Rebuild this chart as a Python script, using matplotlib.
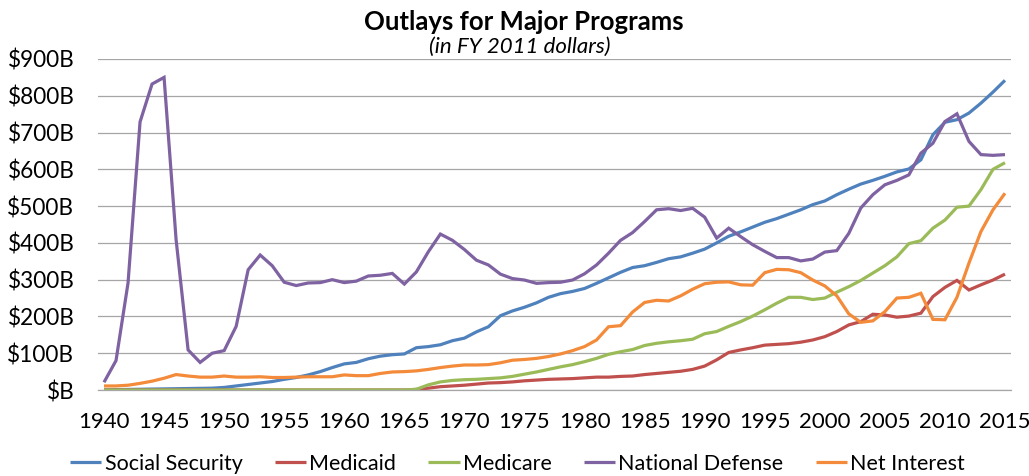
import matplotlib
matplotlib.use("Agg")
import matplotlib.pyplot as plt
from matplotlib.ticker import FixedLocator, FuncFormatter

years = list(range(1940, 2016))

social_security = [0.5, 1, 1.5, 2, 2.5, 3, 3.5, 4, 4.5, 5,
                   7, 11, 15, 19, 23, 29, 34, 41, 50, 61,
                   71, 75, 85, 92, 96, 98, 115, 118, 123, 134,
                   141, 158, 172, 202, 215, 225, 237, 252, 262, 268,
                   276, 290, 305, 320, 333, 338, 347, 357, 362, 372,
                   383, 400, 418, 430, 443, 456, 466, 478, 490, 504,
                   514, 531, 546, 560, 570, 581, 593, 601, 626, 694,
                   728, 735, 753, 780, 810, 842]

medicaid = [0] * 26 + [1.5, 5, 9, 11,
            13, 16, 19, 20, 22, 25, 27, 29, 30, 31,
            33, 35, 35, 37, 38, 42, 45, 48, 51, 56,
            65, 82, 102, 109, 115, 122, 124, 126, 130, 136,
            145, 159, 177, 186, 206, 204, 198, 201, 209, 254,
            279, 298, 272, 286, 299, 315]

medicare = [0] * 26 + [2, 14, 22, 26,
            28, 29, 31, 33, 37, 43, 49, 56, 63, 69,
            77, 86, 97, 104, 110, 121, 127, 131, 134, 138,
            153, 159, 173, 186, 201, 218, 236, 252, 252, 246,
            250, 266, 281, 298, 318, 338, 362, 398, 406, 440,
            462, 497, 500, 545, 600, 618]

national_defense = [21, 80, 291, 729, 832, 850, 409, 109, 75, 100,
                    107, 173, 327, 367, 338, 293, 284, 291, 292, 300,
                    292, 296, 310, 312, 317, 288, 321, 376, 424, 407,
                    382, 353, 340, 315, 303, 299, 290, 292, 293, 299,
                    316, 340, 372, 407, 428, 458, 490, 493, 488, 494,
                    470, 413, 440, 417, 395, 377, 360, 360, 351, 356,
                    375, 379, 426, 495, 531, 558, 570, 585, 644, 671,
                    730, 751, 676, 640, 638, 640]

net_interest = [11, 11, 13, 18, 24, 32, 42, 38, 35, 35,
                38, 35, 35, 36, 34, 34, 35, 36, 36, 36,
                41, 39, 39, 45, 49, 50, 52, 56, 61, 65,
                68, 68, 69, 74, 81, 83, 86, 91, 98, 107,
                118, 136, 172, 175, 212, 238, 244, 242, 256, 274,
                289, 293, 294, 286, 285, 319, 328, 327, 319, 299,
                283, 256, 207, 184, 188, 213, 250, 252, 263, 192,
                191, 252, 345, 431, 490, 535]

series_names = ["Social Security", "Medicaid", "Medicare",
                "National Defense", "Net Interest"]
series_values = [social_security, medicaid, medicare,
                 national_defense, net_interest]
series_colors = ["#4F81BD", "#C0504D", "#9BBB59", "#7F62A1", "#F38B3A"]

y_ticks = [0, 100, 200, 300, 400, 500, 600, 700, 800, 900]
x_ticks = list(range(1940, 2016, 5))

FONT = ["Lato", "DejaVu Sans"]
plt.rcParams["font.family"] = FONT

fig = plt.figure(figsize=(10.29, 4.76), dpi=100)
ax = fig.add_axes([98 / 1029, 1 - 390 / 476, (1011 - 98) / 1029, (390 - 59) / 476])

for name, vals, col in zip(series_names, series_values, series_colors):
    ax.plot(years, vals, color=col, lw=2.3, label=name,
            solid_joinstyle="miter", solid_capstyle="butt")

ax.set_xlim(1939.5, 2015.5)
ax.set_ylim(0, 900)
ax.yaxis.set_major_locator(FixedLocator(y_ticks))
ax.xaxis.set_major_locator(FixedLocator(x_ticks))
ax.yaxis.set_major_formatter(FuncFormatter(lambda v, p: "$B" if v == 0 else f"${int(v)}B"))
ax.grid(axis="y", color="#A6A6A6", lw=0.9)
ax.set_axisbelow(True)
for s in ["top", "right", "left"]:
    ax.spines[s].set_visible(False)
ax.spines["bottom"].set_color("#A6A6A6")
ax.spines["bottom"].set_linewidth(0.9)
ax.tick_params(axis="y", length=0, pad=17, labelsize=16.3, labelcolor="#000000")
ax.tick_params(axis="x", length=0, pad=16, labelsize=16, labelcolor="#000000")

fig.text(0.509, 1 - 30 / 476, "Outlays for Major Programs", ha="center",
         va="baseline", fontsize=18.5, fontweight="bold")
fig.text(0.505, 1 - 53 / 476, "(in FY 2011 dollars)", ha="center",
         va="baseline", fontsize=16, fontstyle="italic")

leg = fig.legend(loc="center", bbox_to_anchor=(0.503, 1 - 464 / 476), ncol=5,
                 frameon=False, fontsize=15.5, handlelength=1.45, handletextpad=0.15,
                 columnspacing=1.5, borderaxespad=0)
for line in leg.get_lines():
    line.set_linewidth(2.3)

fig.savefig("out.png", dpi=100)
